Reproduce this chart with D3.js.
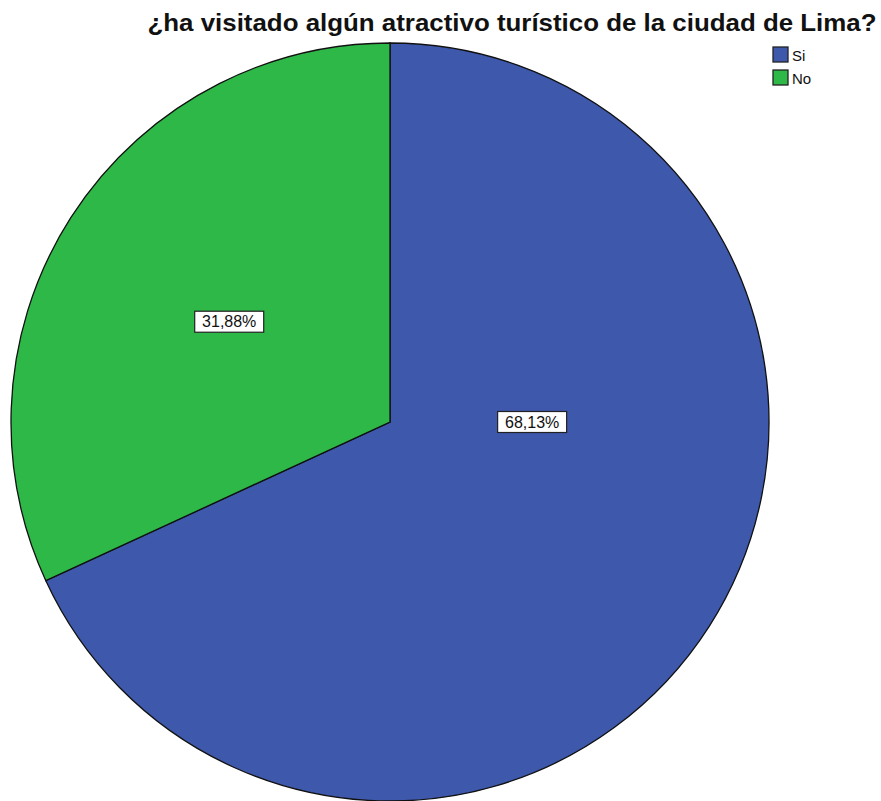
<head>
    <meta charset="utf-8">
    <script src="https://d3js.org/d3.v7.min.js"></script>
    <style>
        body {
            margin: 0;
            background: #fff;
        }
        svg text {
            font-family: "Liberation Sans", Arial, sans-serif;
        }
    </style>
</head>

<body>

<svg width="881" height="801"></svg>

<script>

    // data
    var categories = ["Si", "No"];
    var percents = [68.13, 31.88];
    var colors = ["#3e58ac", "#2eb848"];
    var title = "¿ha visitado algún atractivo turístico de la ciudad de Lima?";

    var svg = d3.select("svg"),
        cx = 390,
        cy = 422,
        radius = 379;

    var data = categories.map((c, i) => ({name: c, value: percents[i]}));

    var color = d3.scaleOrdinal()
        .domain(categories)
        .range(colors);

    //
    // pie
    //

    var pie = d3.pie()
        .sort(null)
        .value(d => d.value);

    var arc = d3.arc()
        .innerRadius(0)
        .outerRadius(radius);

    var arcs = pie(data);

    var g = svg.append("g")
        .attr("transform", "translate(" + cx + "," + cy + ")");

    g.selectAll(".slice")
        .data(arcs)
        .enter().append("path")
        .attr("class", "slice")
        .attr("d", arc)
        .attr("fill", d => color(d.data.name))
        .attr("stroke", "#111")
        .attr("stroke-width", 1.3);

    //
    // labels (SPSS-like placement: angle and fraction of radius)
    //

    var labelAt = {Si: [Math.PI / 2, 0.375], No: [5.27, 0.5]};
    var fmt = v => d3.format(".2f")(v).replace(".", ",") + "%";

    var labels = g.selectAll(".label")
        .data(arcs)
        .enter().append("g")
        .attr("class", "label")
        .attr("transform", function(d) {
            var p = labelAt[d.data.name];
            var x = Math.sin(p[0]) * radius * p[1],
                y = -Math.cos(p[0]) * radius * p[1];
            return "translate(" + x + "," + y + ")";
        });

    labels.append("rect")
        .attr("x", -34.5)
        .attr("y", -10.5)
        .attr("width", 69)
        .attr("height", 21)
        .attr("fill", "#fff")
        .attr("stroke", "#222")
        .attr("stroke-width", 1.2);

    labels.append("text")
        .attr("text-anchor", "middle")
        .attr("dy", "0.36em")
        .attr("font-size", 16)
        .attr("fill", "#111")
        .text(d => fmt(d.data.value));

    //
    // title and legend
    //

    svg.append("text")
        .attr("x", 512)
        .attr("y", 31)
        .attr("text-anchor", "middle")
        .attr("font-size", 24)
        .attr("font-weight", "bold")
        .attr("textLength", 729)
        .attr("lengthAdjust", "spacingAndGlyphs")
        .attr("fill", "#111")
        .text(title);

    var legend = svg.selectAll(".legend")
        .data(categories)
        .enter().append("g")
        .attr("class", "legend")
        .attr("transform", (d, i) => "translate(773," + (47 + i * 23) + ")");

    legend.append("rect")
        .attr("width", 15)
        .attr("height", 15)
        .attr("fill", d => color(d))
        .attr("stroke", "#222")
        .attr("stroke-width", 1.3);

    legend.append("text")
        .attr("x", 19)
        .attr("y", 14)
        .attr("font-size", 15)
        .attr("fill", "#111")
        .text(d => d);

</script>
</body>
